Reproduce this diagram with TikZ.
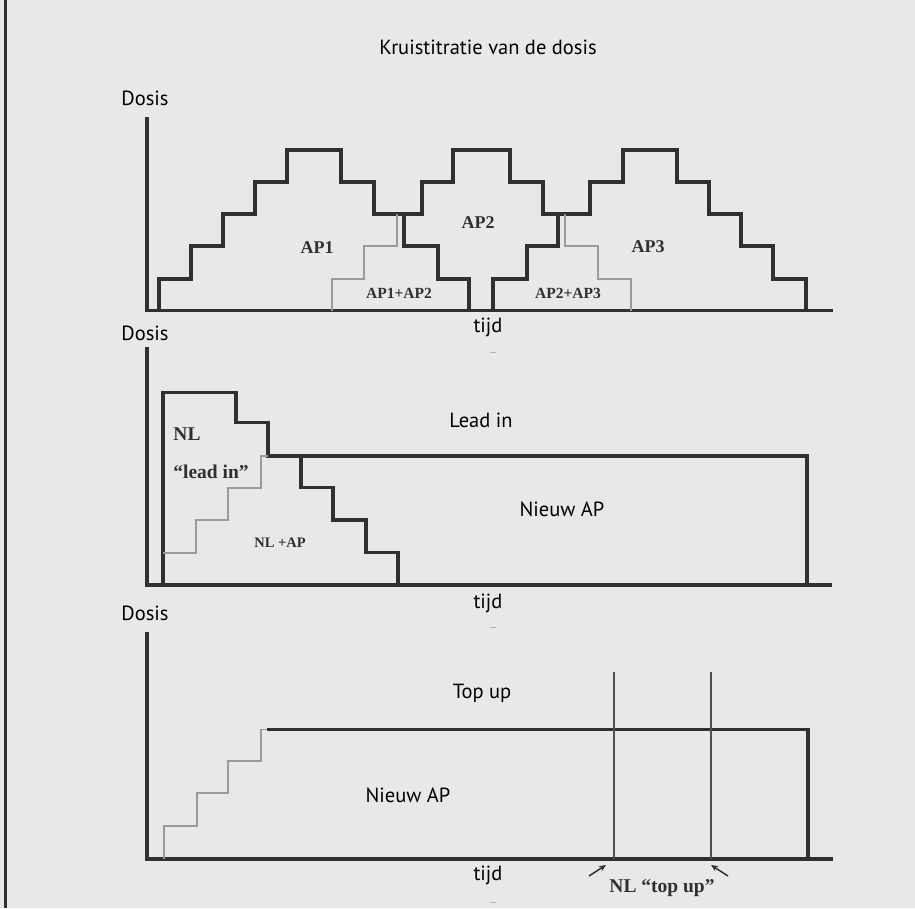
\documentclass[tikz,border=0pt]{standalone}
\usepackage{fontspec}
\setmainfont{PT Sans}
\newfontfamily\serifl{Liberation Serif}
\usetikzlibrary{arrows.meta}
\definecolor{bg}{HTML}{E8E8E8}
\definecolor{ink}{HTML}{303030}
\definecolor{lgray}{HTML}{9A9A9A}
\tikzset{
  axisline/.style={draw=ink, line width=3.2pt, line join=miter},
  stairs/.style={draw=ink, line width=3.2pt, line join=miter},
  grayline/.style={draw=lgray, line width=1.7pt},
  thinv/.style={draw=ink!85, line width=2.3pt},
  sanslbl/.style={font=\fontsize{20.5}{24}\selectfont, text=black, inner sep=0pt},
  seriflbl/.style={font=\serifl\bfseries\fontsize{18}{22}\selectfont, text=ink, inner sep=0pt},
  smallserif/.style={font=\serifl\bfseries\fontsize{14.5}{18}\selectfont, text=ink, inner sep=0pt},
  tick/.style={draw=gray!60, line width=0.8pt},
  pointer/.style={draw=ink, line width=1.5pt, -{Stealth[length=7pt,width=6pt]}}
}
\begin{document}
\begin{tikzpicture}[x=1pt,y=-1pt]
\fill[bg] (0,0) rectangle (915,908);
\useasboundingbox (0,0) rectangle (915,908);
\draw[ink, line width=2.8pt] (5.5,0) -- (5.5,908);

% title
\node[sanslbl] (title) at (488,47) {Kruistitratie van de dosis};

% ---------- panel 1 ----------
\node[sanslbl] (dosisA) at (145,98) {Dosis};
\draw[axisline] (147,117) -- (147,310.7) -- (833,310.7);
\draw[stairs] (159,310.7) -- (159,279) -- (191,279) -- (191,246) -- (223,246) -- (223,214) -- (255,214) -- (255,182) -- (287,182) -- (287,150) -- (341,150) -- (341,182) -- (374,182) -- (374,214) -- (422,214) -- (422,182) -- (453,182) -- (453,150) -- (510,150) -- (510,182) -- (543,182) -- (543,214) -- (590,214) -- (590,182) -- (623,182) -- (623,150) -- (677,150) -- (677,182) -- (709,182) -- (709,214) -- (741,214) -- (741,246) -- (773,246) -- (773,279) -- (806,279) -- (806,310.7);
\draw[stairs] (404,214) -- (404,246) -- (438,246) -- (438,279) -- (469,279) -- (469,310.7);
\draw[stairs] (493,310.7) -- (493,279) -- (527,279) -- (527,246) -- (558,246) -- (558,214);
\draw[grayline] (397,214) -- (397,246) -- (364,246) -- (364,279) -- (332,279) -- (332,310.7);
\draw[grayline] (565,214) -- (565,246) -- (598,246) -- (598,279) -- (631,279) -- (631,310.7);
\node[seriflbl] (ap1) at (317,248) {AP1};
\node[seriflbl] (ap2) at (478,223) {AP2};
\node[seriflbl] (ap3) at (648,247) {AP3};
\node[seriflbl, font=\serifl\bfseries\fontsize{15.5}{18}\selectfont] (ap12) at (399,293) {AP1+AP2};
\node[seriflbl, font=\serifl\bfseries\fontsize{15.5}{18}\selectfont] (ap23) at (568,293) {AP2+AP3};
\node[sanslbl] (tijdA) at (488,327) {tijd};
\draw[tick] (490,352) -- (496,352);

% ---------- panel 2 ----------
\node[sanslbl] (dosisB) at (145,333) {Dosis};
\draw[axisline] (147,346.7) -- (147,585) -- (832,585);
\draw[stairs] (163,585) -- (163,392.3) -- (236,392.3) -- (236,422.7) -- (268,422.7) -- (268,456) -- (807,456) -- (807,585);
\draw[stairs] (301,456) -- (301,487.7) -- (333,487.7) -- (333,520) -- (366,520) -- (366,552.7) -- (398,552.7) -- (398,585);
\draw[grayline] (163,552.7) -- (196,552.7) -- (196,520) -- (228,520) -- (228,487.7) -- (261,487.7) -- (261,456) -- (268,456);
\node[seriflbl, font=\serifl\bfseries\fontsize{19.5}{22}\selectfont] (nl) at (187,434) {NL};
\node[seriflbl, font=\serifl\bfseries\fontsize{19.5}{22}\selectfont] (leadq) at (211,472) {“lead in”};
\node[smallserif] (nlap) at (280,543) {NL +AP};
\node[sanslbl] (leadin) at (481,420) {Lead in};
\node[sanslbl] (nieuwB) at (562,509) {Nieuw AP};
\node[sanslbl] (tijdB) at (488,603) {tijd};
\draw[tick] (490,627) -- (496,627);

% ---------- panel 3 ----------
\node[sanslbl] (dosisC) at (145,613) {Dosis};
\draw[axisline] (147,632) -- (147,859) -- (833,859);
\draw[grayline] (164,859) -- (164,826) -- (197,826) -- (197,793) -- (228,793) -- (228,761) -- (261,761) -- (261,729.5) -- (267,729.5);
\draw[stairs] (267,729.5) -- (808,729.5) -- (808,859);
\draw[thinv] (614,672) -- (614,859);
\draw[thinv] (711,672) -- (711,859);
\node[sanslbl] (topup) at (482,693) {Top up};
\node[sanslbl] (nieuwC) at (408,795) {Nieuw AP};
\node[sanslbl] (tijdC) at (488,875) {tijd};
\draw[tick] (490,902) -- (496,902);
\node[seriflbl, font=\serifl\bfseries\fontsize{19.5}{24}\selectfont] (nltop) at (662,888) {NL “top up”};
\coordinate (a1s) at (589,876);
\coordinate (a1e) at (606,865);
\coordinate (a2s) at (728,876);
\coordinate (a2e) at (711,865);
\draw[pointer] (a1s) -- (a1e);
\draw[pointer] (a2s) -- (a2e);
\end{tikzpicture}
\end{document}
